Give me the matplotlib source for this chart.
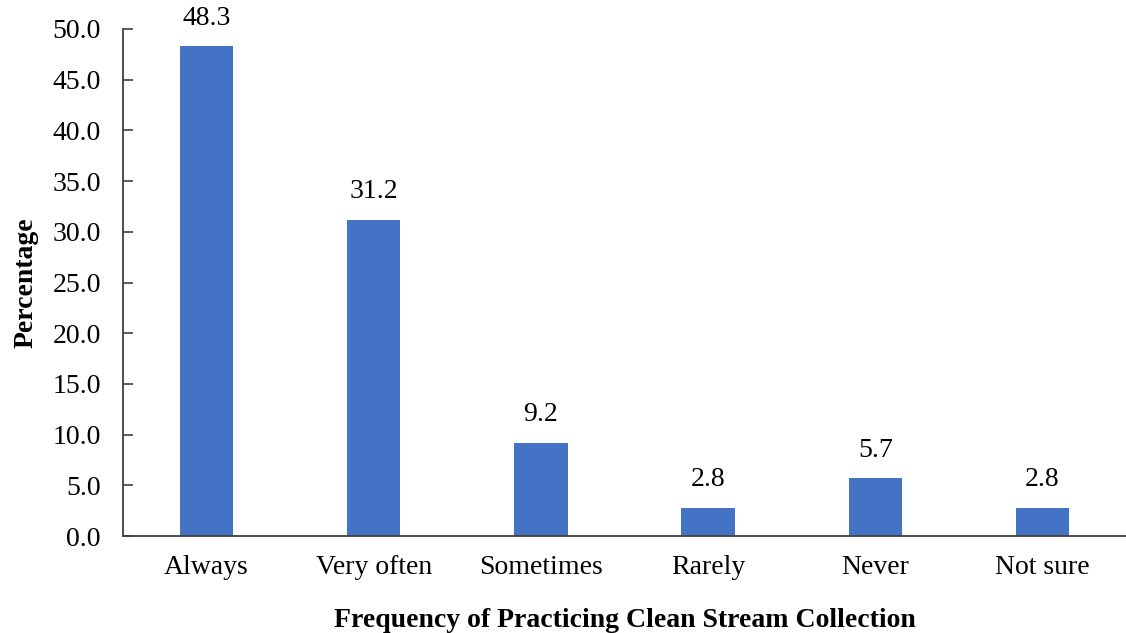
#! /usr/bin/env python3

"""
Bar chart: frequency of practicing clean stream collection.
"""

import matplotlib
matplotlib.use('Agg')
import matplotlib.pyplot as plt

CATEGORIES = ['Always', 'Very often', 'Sometimes', 'Rarely', 'Never', 'Not sure']
PERCENTAGES = [48.3, 31.2, 9.2, 2.8, 5.7, 2.8]
Y_TICKS = [0, 5, 10, 15, 20, 25, 30, 35, 40, 45, 50]


def main() -> None:
    plt.rcParams['font.family'] = ['Liberation Serif', 'DejaVu Serif']
    plt.rcParams['font.size'] = 20

    fig = plt.figure(figsize=(11.26, 6.33), dpi=100)
    ax = fig.add_axes([123 / 1126, 1 - 536 / 633, 1 - 123 / 1126, (536 - 29) / 633])

    x = range(len(CATEGORIES))
    bars = ax.bar(x, PERCENTAGES, width=0.32, color='#4472C4')
    ax.bar_label(bars, labels=[f'{v:.1f}' for v in PERCENTAGES], padding=11, fontsize=20)

    ax.set_xlim(-0.5, len(CATEGORIES) - 0.5)
    ax.set_ylim(0, 50)
    ax.set_yticks(Y_TICKS)
    ax.set_yticklabels([f'{v:.1f}' for v in Y_TICKS])
    ax.set_xticks(list(x))
    ax.set_xticklabels(CATEGORIES)

    ax.tick_params(axis='x', length=0, pad=14)
    ax.tick_params(axis='y', direction='in', length=7, width=1.2, color='#404040', pad=16)

    for side in ('top', 'right'):
        ax.spines[side].set_visible(False)
    for side in ('left', 'bottom'):
        ax.spines[side].set_color('#404040')
        ax.spines[side].set_linewidth(1.3)

    ax.set_xlabel('Frequency of Practicing Clean Stream Collection', fontweight='bold', labelpad=20)
    ax.set_ylabel('Percentage', fontweight='bold', labelpad=10)

    fig.savefig('out.png')


if __name__ == '__main__':
    main()
